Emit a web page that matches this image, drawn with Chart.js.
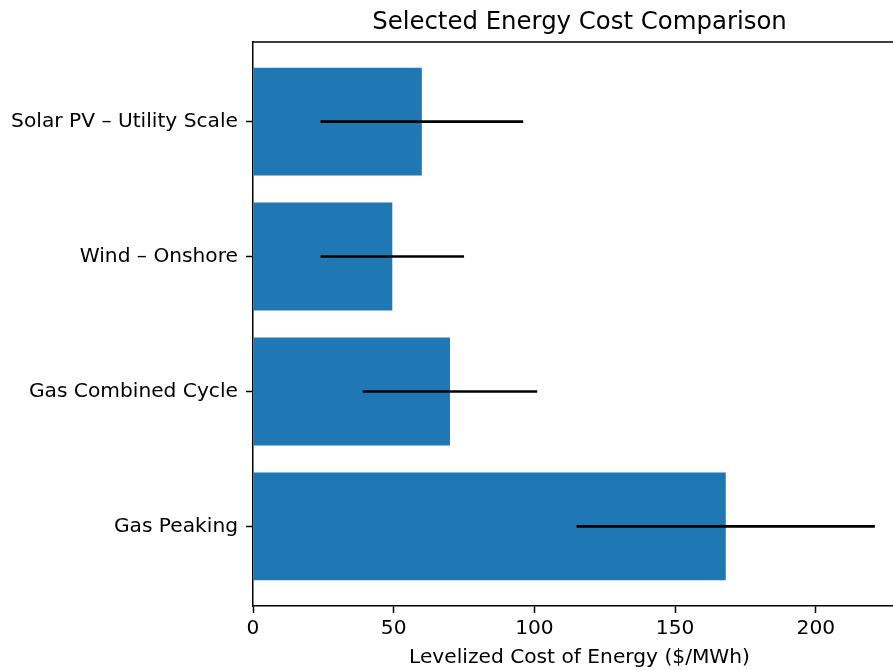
<!DOCTYPE html>
<html>
<head>
<meta charset="utf-8">
<script src="https://cdn.jsdelivr.net/npm/chart.js@4.4.0/dist/chart.umd.min.js"></script>
<style>
    html, body { margin: 0; padding: 0; background: #fff; overflow: hidden; }
    #wrap { width: 920px; height: 670px; }
</style>
</head>
<body>
<div id="wrap"><canvas id="costChart" width="920" height="670"></canvas></div>
<script>
// technologies, top to bottom
const categories = ['Solar PV \u2013 Utility Scale', 'Wind \u2013 Onshore', 'Gas Combined Cycle', 'Gas Peaking'];
// bar value (midpoint) and range ends, $/MWh
const costValues = [60, 49.5, 70, 168];
const rangeLow = [24, 24, 39, 115];
const rangeHigh = [96, 75, 101, 221];
const xTicks = [0, 50, 100, 150, 200];

const titleText = 'Selected Energy Cost Comparison';
const xLabel = 'Levelized Cost of Energy ($/MWh)';
const barColor = '#1f77b4';
const fontFamily = "'DejaVu Sans', sans-serif";

// axes frame (top/right spines) + title drawn over the plot area centre
const framePlugin = {
    id: 'frame',
    afterDraw(chart) {
        const { ctx, chartArea } = chart;
        ctx.save();
        ctx.strokeStyle = '#000';
        ctx.lineWidth = 1.5;
        ctx.beginPath();
        ctx.moveTo(chartArea.left, chartArea.top);
        ctx.lineTo(chartArea.right, chartArea.top);
        ctx.lineTo(chartArea.right, chartArea.bottom);
        ctx.stroke();

        ctx.fillStyle = '#000';
        ctx.font = '24.4px ' + fontFamily;
        ctx.textAlign = 'center';
        ctx.textBaseline = 'alphabetic';
        ctx.fillText(titleText, (chartArea.left + chartArea.right) / 2, 28.5);
        ctx.restore();
    }
};

// horizontal range lines (no caps)
const rangePlugin = {
    id: 'ranges',
    afterDatasetsDraw(chart) {
        const { ctx } = chart;
        const xs = chart.scales.x;
        const ys = chart.scales.y;
        ctx.save();
        ctx.strokeStyle = '#000';
        ctx.lineWidth = 2.6;
        rangeLow.forEach((lo, i) => {
            const y = ys.getPixelForValue(i);
            ctx.beginPath();
            ctx.moveTo(xs.getPixelForValue(lo), y);
            ctx.lineTo(xs.getPixelForValue(rangeHigh[i]), y);
            ctx.stroke();
        });
        ctx.restore();
    }
};

new Chart(document.getElementById('costChart'), {
    type: 'bar',
    data: {
        datasets: [{
            data: costValues.map((v, i) => ({ x: v, y: i })),
            backgroundColor: barColor,
            borderWidth: 0,
            barPercentage: 1,
            categoryPercentage: 0.8
        }]
    },
    options: {
        indexAxis: 'y',
        responsive: false,
        animation: false,
        layout: { padding: { top: 42, right: 14, left: 0, bottom: 0 } },
        plugins: {
            legend: { display: false },
            tooltip: { enabled: false },
            title: { display: false }
        },
        scales: {
            x: {
                type: 'linear',
                min: 0,
                max: 232.05,
                afterBuildTicks: scale => {
                    scale.ticks = xTicks.map(v => ({ value: v }));
                },
                afterFit: scale => { scale.height = 64; },
                ticks: {
                    color: '#000',
                    font: { family: fontFamily, size: 20.2 },
                    padding: 4,
                    maxRotation: 0
                },
                grid: {
                    drawOnChartArea: false,
                    drawTicks: true,
                    tickLength: 7,
                    tickColor: '#000',
                    tickWidth: 1.5
                },
                border: { display: true, color: '#000', width: 1.5 },
                title: {
                    display: true,
                    text: xLabel,
                    color: '#000',
                    font: { family: fontFamily, size: 20.2 },
                    padding: { top: 0, bottom: 0 }
                }
            },
            y: {
                type: 'linear',
                reverse: true,
                offset: false,
                min: -0.59,
                max: 3.59,
                afterBuildTicks: scale => {
                    scale.ticks = categories.map((c, i) => ({ value: i }));
                },
                afterFit: scale => { scale.width = 253; },
                ticks: {
                    color: '#000',
                    font: { family: fontFamily, size: 20.2 },
                    padding: 8,
                    callback: v => categories[v]
                },
                grid: {
                    offset: false,
                    drawOnChartArea: false,
                    drawTicks: true,
                    tickLength: 7,
                    tickColor: '#000',
                    tickWidth: 1.5
                },
                border: { display: true, color: '#000', width: 1.5 }
            }
        }
    },
    plugins: [rangePlugin, framePlugin]
});
</script>
</body>
</html>
